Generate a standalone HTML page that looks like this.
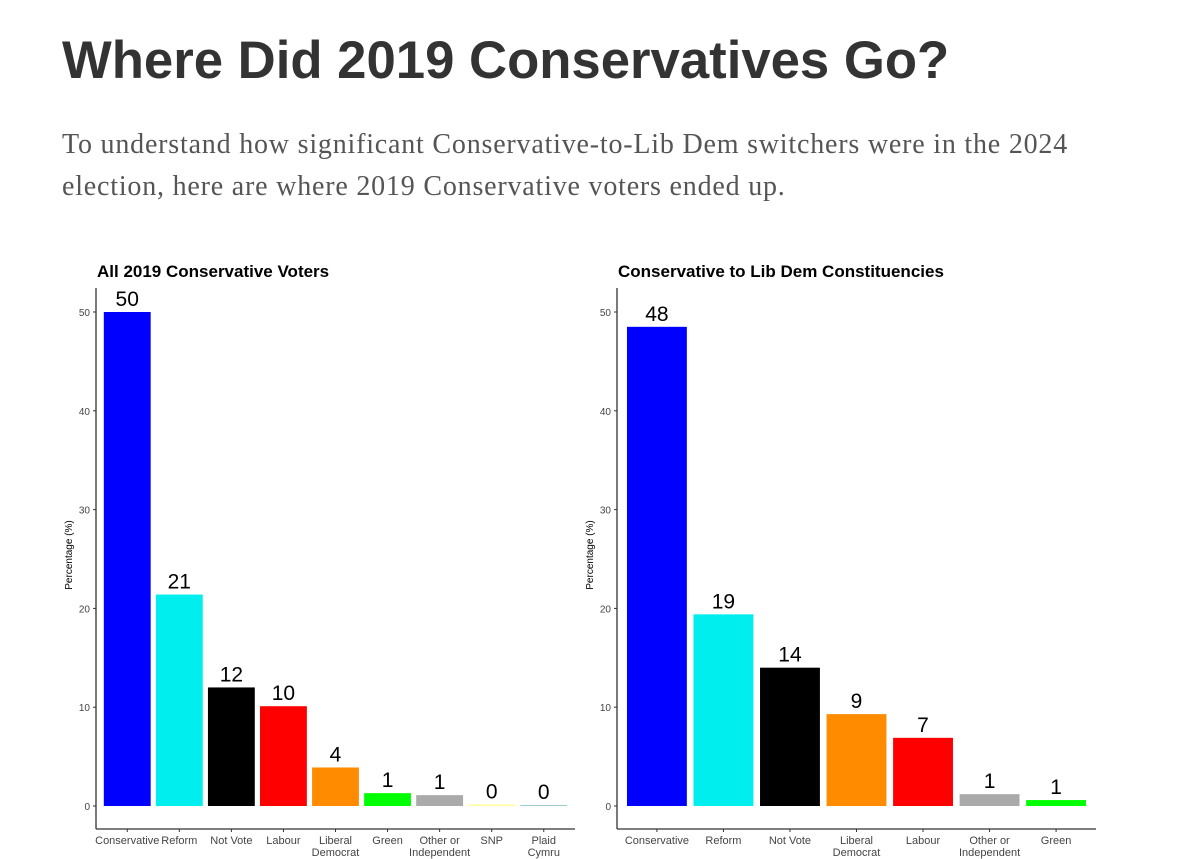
<!DOCTYPE html>
<html><head><meta charset="utf-8"><style>
body{margin:0;background:#fff;width:1200px;height:859px;overflow:hidden;position:relative;font-family:"Liberation Sans",sans-serif}
h1{position:absolute;left:62px;top:30px;margin:0;font-size:52.7px;font-weight:bold;color:#333;letter-spacing:0px}
p{position:absolute;left:62px;top:124px;margin:0;font-family:"Liberation Serif",serif;font-size:28px;letter-spacing:0.8px;line-height:42px;color:#555;width:1130px}
svg{position:absolute;left:0;top:0}
</style></head><body>
<h1>Where Did 2019 Conservatives Go?</h1>
<p>To understand how significant Conservative-to-Lib Dem switchers were in the 2024<br>election, here are where 2019 Conservative voters ended up.</p>
<svg id="chart" width="1200" height="859"></svg>
<script>
const leftCats=["Conservative","Reform","Not Vote","Labour","Liberal\nDemocrat","Green","Other or\nIndependent","SNP","Plaid\nCymru"];
const leftVals=[50,21.4,12,10.1,3.9,1.3,1.1,0.15,0.1];
const leftLabels=["50","21","12","10","4","1","1","0","0"];
const leftColors=["#0000ff","#00eeee","#000000","#ff0000","#ff8c00","#00ff00","#aaaaaa","#ffff99","#99cccc"];
const rightCats=["Conservative","Reform","Not Vote","Liberal\nDemocrat","Labour","Other or\nIndependent","Green"];
const rightVals=[48.5,19.4,14,9.3,6.9,1.2,0.6];
const rightLabels=["48","19","14","9","7","1","1"];
const rightColors=["#0000ff","#00eeee","#000000","#ff8c00","#ff0000","#aaaaaa","#00ff00"];
const yTicks=[0,10,20,30,40,50];
const NS="http://www.w3.org/2000/svg";
const svg=document.getElementById('chart');
function mk(tag,attrs,parent){const e=document.createElementNS(NS,tag);for(const k in attrs)e.setAttribute(k,attrs[k]);(parent||svg).appendChild(e);return e;}
function chart(name,title,x0,x1,cats,vals,labels,colors){
  const g=mk('g',{});
  
  
  const y=v=>806-v*9.88;
  const unit=(x1-x0)/(cats.length+0.2);
  const cx=i=>x0+unit*(0.6+i);
  const bw=unit*0.9;
  const t=mk('text',{x:x0+1,y:277,'font-size':17,'font-weight':'bold',fill:'#000'},g);t.textContent=title;
  
  
  mk('line',{x1:x0,y1:288,x2:x0,y2:829,stroke:'#333','stroke-width':1.3},g);
  mk('line',{x1:x0,y1:829,x2:x1,y2:829,stroke:'#333','stroke-width':1.3},g);
  yTicks.forEach(v=>{
    mk('line',{x1:x0-3,y1:y(v),x2:x0,y2:y(v),stroke:'#333'},g);
    const tt=mk('text',{x:x0-6,y:y(v)+4,'font-size':10,'text-anchor':'end',fill:'#444'},g);tt.textContent=v;
    
    
  });
  const yl=mk('text',{transform:`translate(${x0-24},555) rotate(-90)`,'font-size':10,'text-anchor':'middle',fill:'#000'},g);yl.textContent='Percentage (%)';
  
  
  cats.forEach((c,i)=>{
    const r=mk('rect',{x:cx(i)-bw/2,y:y(vals[i]),width:bw,height:Math.max(806-y(vals[i]),1),fill:colors[i]},g);
    
    
    const vl=mk('text',{x:cx(i),y:y(vals[i])-6,'font-size':21,'text-anchor':'middle',fill:'#000'},g);vl.textContent=labels[i];
    
    
    mk('line',{x1:cx(i),y1:829,x2:cx(i),y2:832,stroke:'#333'},g);
    c.split('\n').forEach((ln,j)=>{
      const xt=mk('text',{x:cx(i),y:844+j*12,'font-size':11,'text-anchor':'middle',fill:'#444'},g);xt.textContent=ln;
      
      
    });
  });
}
chart('left-chart','All 2019 Conservative Voters',96,575,leftCats,leftVals,leftLabels,leftColors);
chart('right-chart','Conservative to Lib Dem Constituencies',617,1096,rightCats,rightVals,rightLabels,rightColors);
</script>
</body></html>
